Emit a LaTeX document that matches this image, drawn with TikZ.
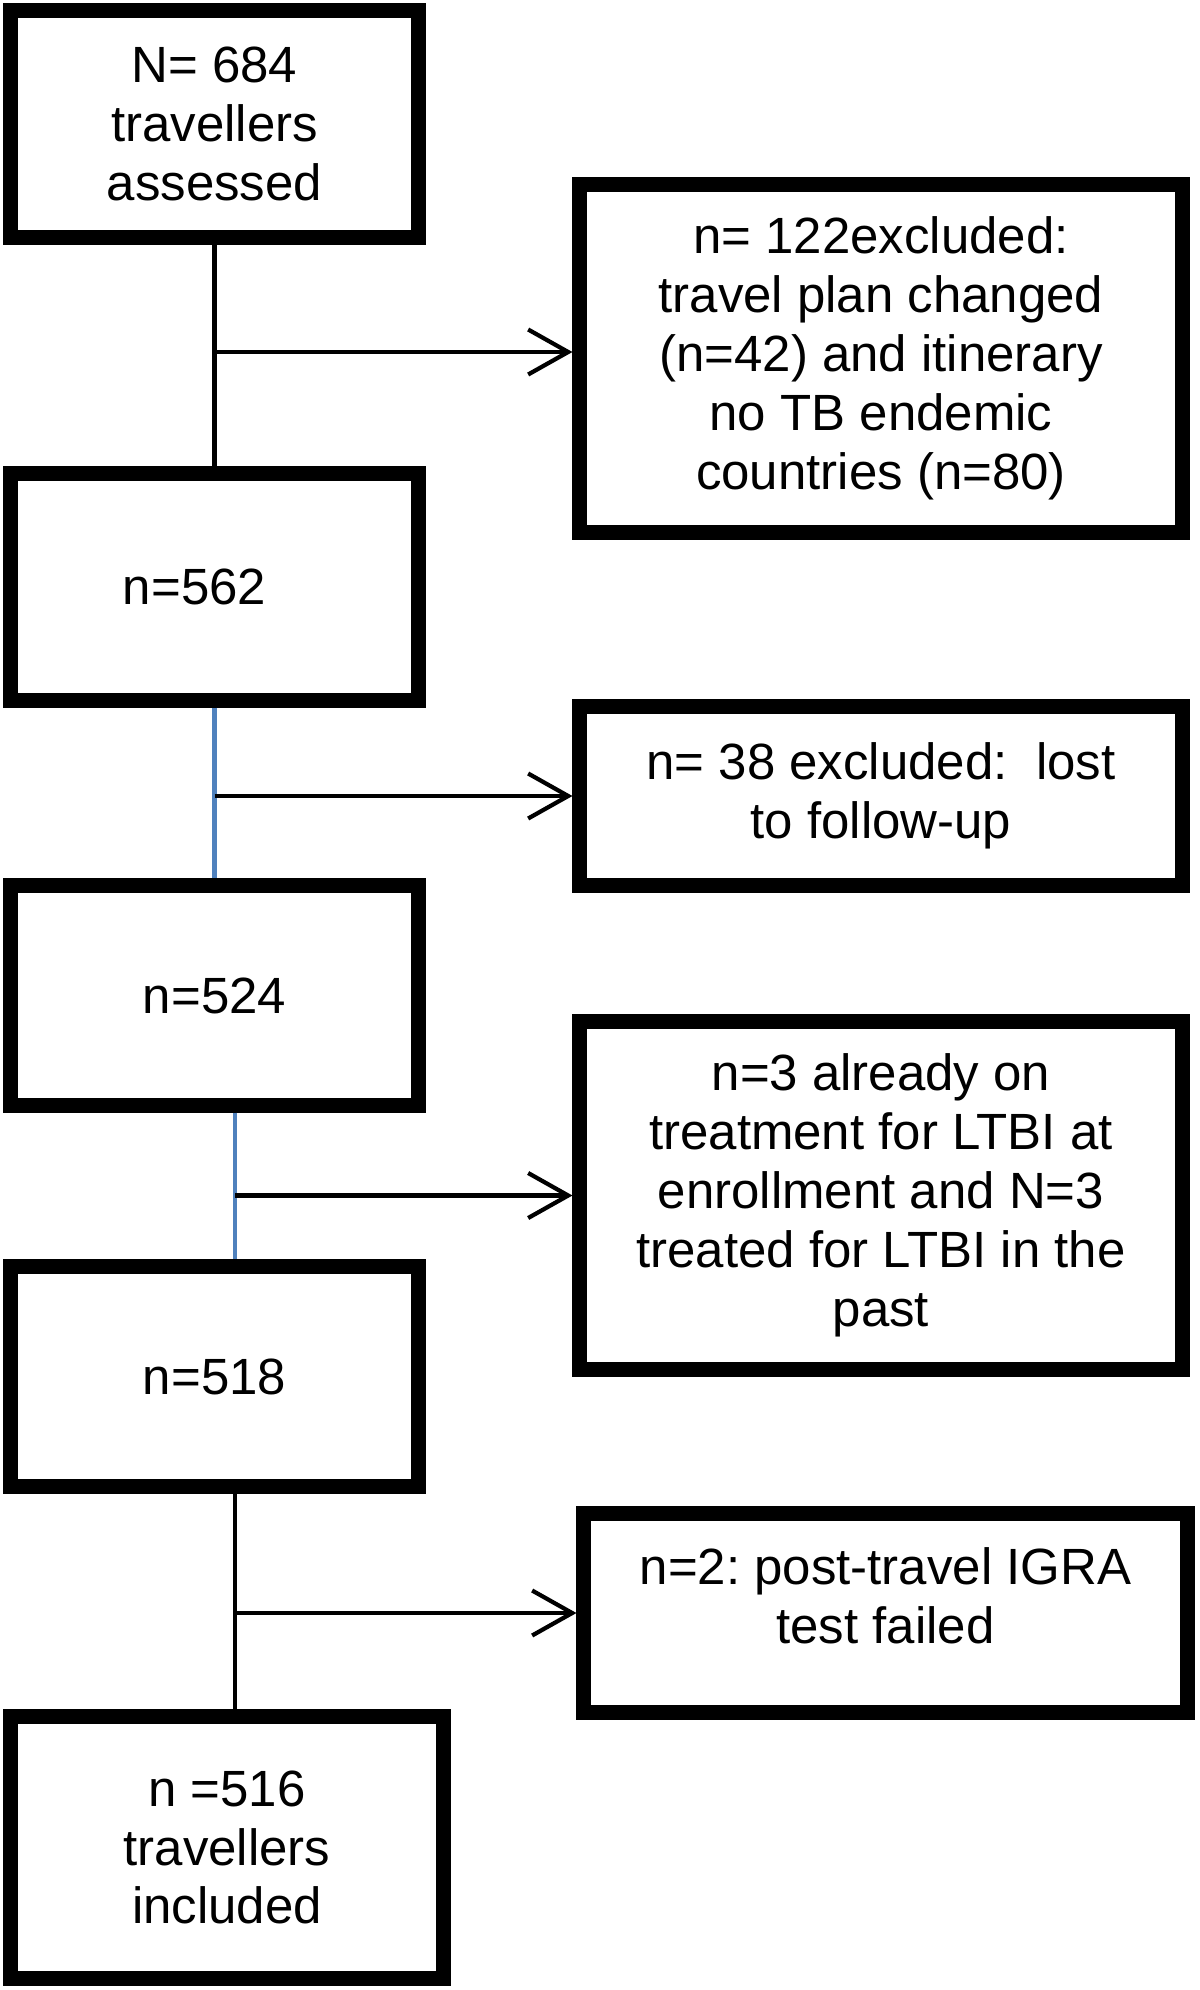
\documentclass[tikz,border=0pt]{standalone}
\usepackage{fontspec}
\setmainfont{Liberation Sans}
\usetikzlibrary{arrows.meta}
\definecolor{flowblue}{RGB}{79,129,189}
\frenchspacing

\begin{document}
\begin{tikzpicture}[node distance=9cm,>={Straight Barb[length=0.8cm,width=0.9cm]},
    boxtext/.style={align=center,inner sep=0pt,font=\fontsize{29}{33.5}\selectfont},
    box/.style={boxtext,draw,line width=8pt},
    mainbox/.style={box,minimum width=8.16cm,minimum height=4.54cm},
    exbox/.style={box,minimum width=12.06cm},
    link/.style={line width=2.4pt},
    bluelink/.style={link,draw=flowblue}]
    \useasboundingbox (0,0) rectangle (24,-39.8);
    % main column
    \node[mainbox] (b1) at (4.29,-2.48) {N= 684\\travellers\\assessed};
    \node[mainbox] (b2) [below of=b1, node distance=9.26cm] {n=562\hspace*{0.8cm}};
    \node[mainbox, minimum height=4.40cm] (b3) [below of=b2, node distance=8.17cm] {n=524};
    \node[mainbox, minimum height=4.40cm] (b4) [below of=b3, node distance=7.62cm] {n=518};
    \node[mainbox, minimum width=8.66cm, minimum height=5.24cm] (b5) [below of=b4, node distance=9.42cm, xshift=0.25cm] {n =516\\travellers\\included};
    % excluded boxes
    \node[exbox, minimum height=6.96cm] (r1) at (17.62,-7.17) {n= 122excluded:\\travel plan changed\\(n=42) and itinerary\\no TB endemic\\countries (n=80)};
    \node[exbox, minimum height=3.58cm] (r2) at (17.62,-15.92) {n= 38 excluded:\ \ lost\\to follow-up};
    \node[exbox, minimum height=6.96cm] (r3) at (17.62,-23.91) {n=3 already on\\treatment for LTBI at\\enrollment and N=3\\treated for LTBI in the\\past};
    \node[exbox, minimum width=12.08cm, minimum height=3.98cm,
      label={[boxtext, yshift=0.34cm]center:n=2: post-travel IGRA\\test failed}] (r4) at (17.71,-32.26) {};
    % shifted line positions
    \coordinate (c3) at ([xshift=0.41cm]b3.south);
    \coordinate (c4) at ([xshift=0.41cm]b4.south);
    \coordinate (a1) at ([yshift=0.13cm]r1.west);
    % vertical links
    \draw[link] (b1.south) -- (b1.south |- b2.north);
    \draw[bluelink] (b2.south) -- (b2.south |- b3.north);
    \draw[bluelink] (c3) -- (c3 |- b4.north);
    \draw[link] (c4) -- (c4 |- b5.north);
    % arrows to excluded boxes
    \draw[link,->] (b1.south |- a1) -- (a1);
    \draw[link,->] (b2.south |- r2.west) -- (r2.west);
    \draw[link,->] (c3 |- r3.west) -- (r3.west);
    \draw[link,->] (c4 |- r4.west) -- (r4.west);
\end{tikzpicture}
\end{document}
